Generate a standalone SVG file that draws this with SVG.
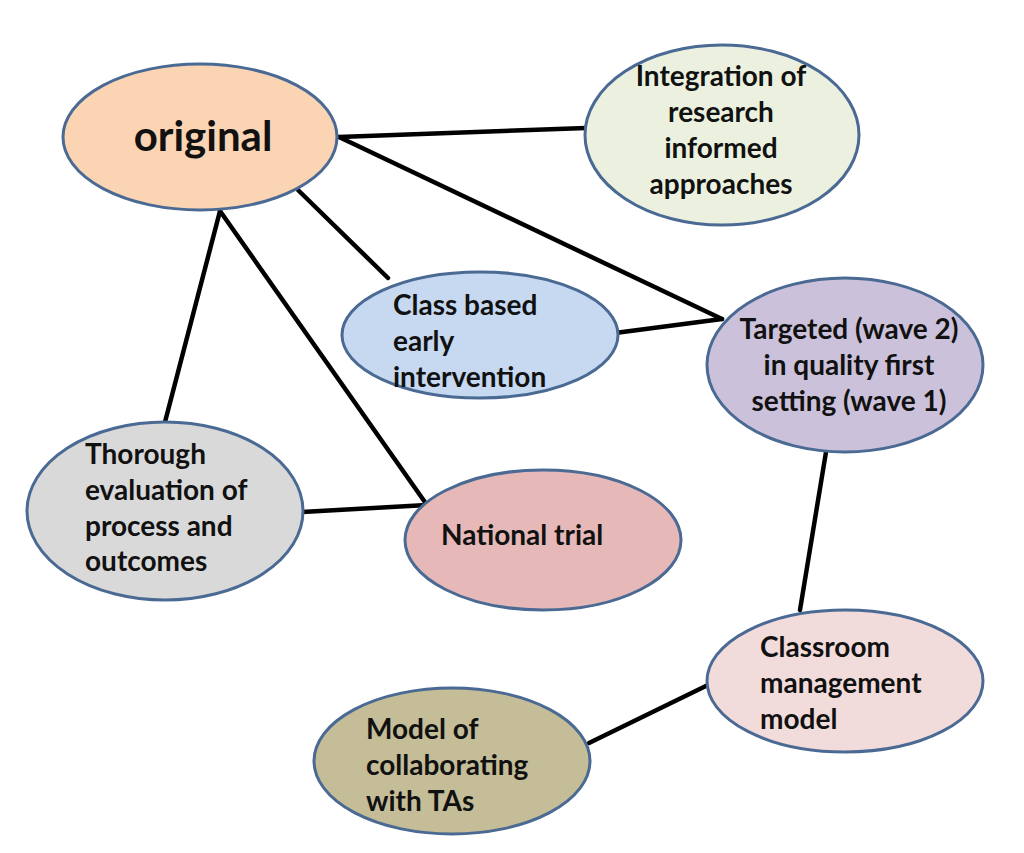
<svg xmlns="http://www.w3.org/2000/svg" width="1024" height="853" viewBox="0 0 1024 853">
<style>
.n{stroke:#4A6A94;stroke-width:3}
.t{font-family:Lato,"Open Sans","Liberation Sans",sans-serif;font-weight:bold;font-size:28px;fill:#111}
.c{text-anchor:middle}
.e line{stroke:#000;stroke-width:4.5;stroke-linecap:round}
</style>
<rect width="1024" height="853" fill="#fff"/>
<g class="e" id="connectors">
<line x1="339" y1="137" x2="586" y2="128"/>
<line x1="339" y1="137" x2="722" y2="319"/>
<line x1="298" y1="190" x2="388" y2="278"/>
<line x1="220" y1="211" x2="165" y2="422"/>
<line x1="220" y1="211" x2="427" y2="505"/>
<line x1="615" y1="333" x2="722" y2="319"/>
<line x1="302" y1="512" x2="427" y2="505"/>
<line x1="826" y1="452" x2="800" y2="610"/>
<line x1="710" y1="684" x2="589" y2="743"/>
</g>
<g id="original">
<ellipse class="n" cx="200" cy="137" rx="137" ry="73" fill="#FBD4B4"/>
<text class="t c" x="203" y="151" style="font-size:42px">original</text>
</g>
<g id="integration">
<ellipse class="n" cx="722" cy="135" rx="137" ry="90" fill="#EBF1DE"/>
<text class="t c" x="721" y="86">Integration of</text>
<text class="t c" x="721" y="122">research</text>
<text class="t c" x="721" y="158">informed</text>
<text class="t c" x="721" y="194">approaches</text>
</g>
<g id="classbased">
<ellipse class="n" cx="480" cy="335" rx="138" ry="63" fill="#C6D9F1"/>
<text class="t" x="393" y="315">Class based</text>
<text class="t" x="393" y="351">early</text>
<text class="t" x="393" y="387">intervention</text>
</g>
<g id="targeted">
<ellipse class="n" cx="845" cy="365" rx="138" ry="87" fill="#CCC1DA"/>
<text class="t c" x="849" y="339">Targeted (wave 2)</text>
<text class="t c" x="849" y="375">in quality first</text>
<text class="t c" x="849" y="411">setting (wave 1)</text>
</g>
<g id="thorough">
<ellipse class="n" cx="165" cy="511" rx="138" ry="89" fill="#D9D9D9"/>
<text class="t" x="85" y="464">Thorough</text>
<text class="t" x="85" y="500">evaluation of</text>
<text class="t" x="85" y="536">process and</text>
<text class="t" x="85" y="571">outcomes</text>
</g>
<g id="national">
<ellipse class="n" cx="543" cy="540" rx="138" ry="70" fill="#E6B9B8"/>
<text class="t" x="441" y="545">National trial</text>
</g>
<g id="classroom">
<ellipse class="n" cx="845" cy="681" rx="138" ry="71" fill="#F2DCDB"/>
<text class="t" x="760" y="657">Classroom</text>
<text class="t" x="760" y="693">management</text>
<text class="t" x="760" y="729">model</text>
</g>
<g id="model">
<ellipse class="n" cx="452" cy="761" rx="138" ry="73" fill="#C4BD97"/>
<text class="t" x="366" y="739">Model of</text>
<text class="t" x="366" y="775">collaborating</text>
<text class="t" x="366" y="811">with TAs</text>
</g>
</svg>
